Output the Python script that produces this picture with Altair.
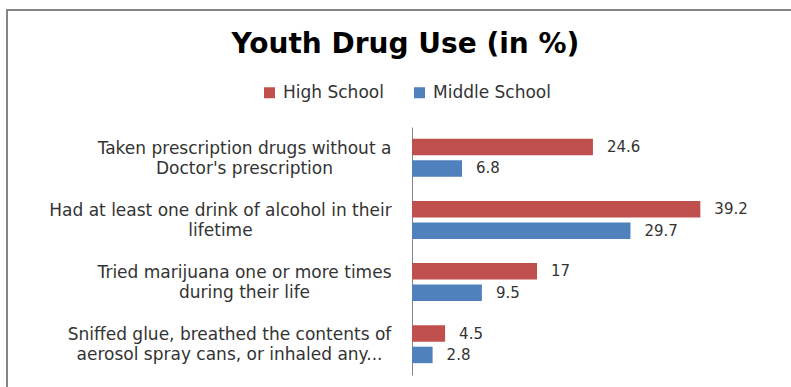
import altair as alt
import pandas as pd

categories = [
    "Taken prescription drugs without a|Doctor's prescription",
    "Had at least one drink of alcohol in their|lifetime",
    "Tried marijuana one or more times|during their life",
    "Sniffed glue, breathed the contents of|aerosol spray cans, or inhaled any...",
]
series = ["High School", "Middle School"]
high_school = [24.6, 39.2, 17, 4.5]
middle_school = [6.8, 29.7, 9.5, 2.8]
colors = ["#C0504D", "#4F81BD"]

# label offsets from the axis (style only): centre of each wrapped label block
label_pads = [168, 192, 168, 183]

rows = []
for c, h, m in zip(categories, high_school, middle_school):
    rows.append({"category": c, "series": series[0], "value": h})
    rows.append({"category": c, "series": series[1], "value": m})
df = pd.DataFrame(rows)

pad_expr = ""
for c, p in zip(categories, label_pads):
    key = c[:6]
    pad_expr += f"substring(datum.value, 0, 6) === '{key}' ? {p} : "
pad_expr += "180"

FONT = "DejaVu Sans"
TXT = "#333333"

y_enc = alt.Y(
    "category:N",
    sort=categories,
    scale=alt.Scale(paddingInner=0.39, paddingOuter=0.19),
    axis=alt.Axis(
        title=None,
        labelExpr="split(datum.value, '|')",
        labelAlign="center",
        labelBaseline="middle",
        labelPadding={"expr": pad_expr},
        labelOffset=-9,
        labelLineHeight=20,
        labelFont=FONT,
        labelFontSize=17,
        labelColor=TXT,
        labelLimit=0,
        ticks=False,
        domainColor="#868686",
        domainWidth=1,
    ),
)
x_enc = alt.X("value:Q", scale=alt.Scale(domain=[0, 45]), axis=None)
yoff = alt.YOffset("series:N", sort=series, scale=alt.Scale(paddingInner=0.23))

bars = alt.Chart(df).mark_bar().encode(
    y=y_enc,
    x=x_enc,
    yOffset=yoff,
    color=alt.Color(
        "series:N",
        sort=series,
        scale=alt.Scale(domain=series, range=colors),
        legend=alt.Legend(
            title=None,
            orient="none",
            legendX=-151,
            legendY=-43,
            direction="horizontal",
            symbolType="square",
            symbolSize=121,
            symbolStrokeWidth=0,
            labelFont=FONT,
            labelFontSize=17,
            labelColor=TXT,
            labelOffset=5,
            columnPadding=27,
        ),
    ),
)

labels = alt.Chart(df).mark_text(
    align="left", baseline="middle", dx=14, font=FONT, fontSize=15, color=TXT
).encode(
    y=alt.Y("category:N", sort=categories),
    x="value:Q",
    yOffset=alt.YOffset("series:N", sort=series),
    text=alt.Text("value:Q"),
)

frame = alt.Chart(pd.DataFrame({"f": [0]})).mark_rect(
    fill=None, stroke="#868686", strokeWidth=2
).encode(
    x=alt.value(-405), x2=alt.value(420), y=alt.value(-117), y2=alt.value(300)
)

chart = alt.layer(frame, bars, labels).properties(
    width=331,
    height=248,
    autosize=alt.AutoSizeParams(type="none"),
    padding={"left": 412, "top": 127, "right": 48, "bottom": 12},
    title=alt.TitleParams(
        "Youth Drug Use (in %)",
        font=FONT,
        fontSize=28,
        fontWeight="bold",
        color="#000000",
        anchor="middle",
        frame="group",
        dx=-172,
        offset=-50,
    ),
).configure_view(stroke=None)

chart.save("out.html", embed_options={"renderer": "svg", "actions": False})
